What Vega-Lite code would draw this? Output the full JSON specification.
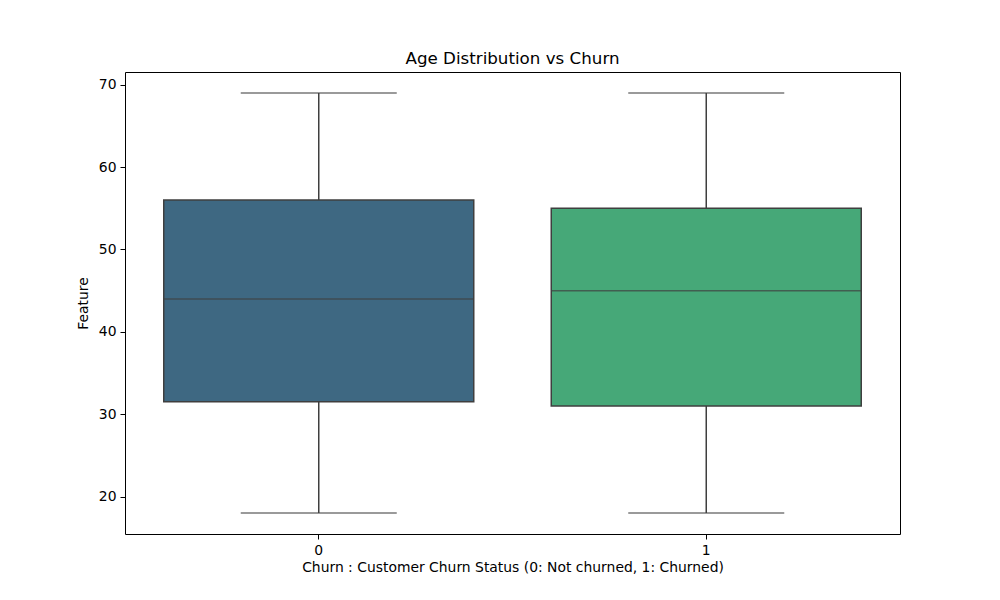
{
  "$schema": "https://vega.github.io/schema/vega-lite/v6.json",
  "width": 775,
  "height": 462,
  "autosize": {"type": "none"},
  "padding": {"left": 125, "top": 72, "right": 100, "bottom": 66},
  "background": "white",
  "config": {
    "font": "DejaVu Sans",
    "view": {"stroke": "black", "strokeWidth": 1},
    "axis": {
      "labelFont": "DejaVu Sans", "titleFont": "DejaVu Sans",
      "labelFontSize": 13.9, "titleFontSize": 13.9,
      "labelColor": "black", "titleColor": "black",
      "titleFontWeight": "normal",
      "tickColor": "black", "tickSize": 5, "domain": false, "grid": false
    }
  },
  "title": {"text": "Age Distribution vs Churn", "fontSize": 16.7, "font": "DejaVu Sans", "fontWeight": "normal", "color": "black", "offset": 4},
  "data": {"values": [
    {"churn": "0", "min": 18, "q1": 31.5, "median": 44, "q3": 56, "max": 69},
    {"churn": "1", "min": 18, "q1": 31, "median": 45, "q3": 55, "max": 69}
  ]},
  "encoding": {
    "x": {"field": "churn", "type": "nominal", "scale": {"paddingInner": 0, "paddingOuter": 0},
      "axis": {"title": "Churn : Customer Churn Status (0: Not churned, 1: Churned)", "labelAngle": 0, "labelPadding": 4, "titlePadding": 4}}
  },
  "layer": [
    {"mark": {"type": "rule", "color": "#3f3f3f", "strokeWidth": 1.5},
     "encoding": {"y": {"field": "min", "type": "quantitative", "scale": {"domain": [15.45, 71.55], "nice": false, "zero": false},
       "axis": {"title": "Feature", "values": [20, 30, 40, 50, 60, 70], "labelPadding": 4, "titlePadding": 8}},
       "y2": {"field": "q1"}}},
    {"mark": {"type": "rule", "color": "#3f3f3f", "strokeWidth": 1.5},
     "encoding": {"y": {"field": "q3", "type": "quantitative"}, "y2": {"field": "max"}}},
    {"mark": {"type": "bar", "size": 310, "stroke": "#3f3f3f", "strokeWidth": 1.5},
     "encoding": {"y": {"field": "q1", "type": "quantitative"}, "y2": {"field": "q3"},
       "color": {"field": "churn", "type": "nominal", "scale": {"range": ["#3e6882", "#46a878"]}, "legend": null}}},
    {"mark": {"type": "tick", "size": 310, "thickness": 1.5, "color": "#3f3f3f", "orient": "horizontal"},
     "encoding": {"y": {"field": "median", "type": "quantitative"}}},
    {"mark": {"type": "tick", "size": 156, "thickness": 1.5, "color": "#3f3f3f", "orient": "horizontal"},
     "encoding": {"y": {"field": "min", "type": "quantitative"}}},
    {"mark": {"type": "tick", "size": 156, "thickness": 1.5, "color": "#3f3f3f", "orient": "horizontal"},
     "encoding": {"y": {"field": "max", "type": "quantitative"}}}
  ]
}
